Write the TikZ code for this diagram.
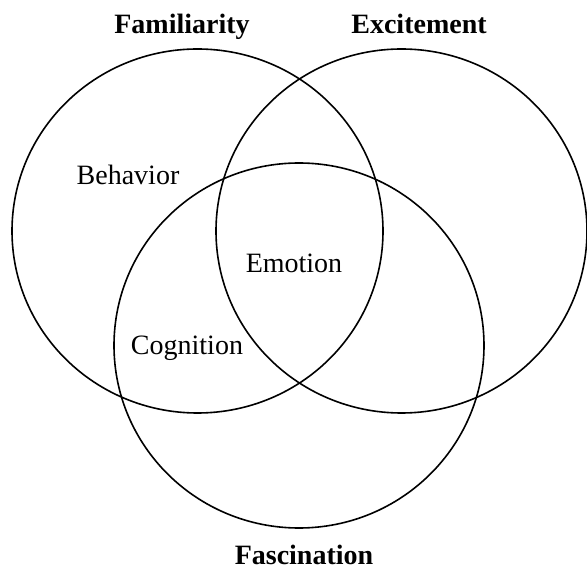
\documentclass[tikz,border=0pt]{standalone}
\usepackage{fontspec}
\setmainfont{Liberation Serif}
\usetikzlibrary{shapes.geometric}
\begin{document}
\begin{tikzpicture}[x=1pt,y=-1pt,
  setring/.style={draw=black,line width=1.6pt,ellipse,inner sep=0pt,minimum width=371pt,minimum height=364pt},
  setname/.style={font=\fontsize{28}{30}\selectfont\bfseries,anchor=base,inner sep=0pt},
  region/.style={font=\fontsize{28}{30}\selectfont,anchor=base,inner sep=0pt}]
\useasboundingbox (0,0) rectangle (587,569);
\node[setring] (fam) at (197.5,231) {};
\node[setring] (exc) at (401.5,231) {};
\node[setring,minimum width=370pt,minimum height=365pt] (fas) at (299,345.5) {};
\node[setname] (famlabel) at (182,34) {Familiarity};
\node[setname] (exclabel) at (419,34) {Excitement};
\node[setname] (faslabel) at (304,564) {Fascination};
\node[region] (beh) at (128,185) {Behavior};
\node[region] (emo) at (294,273) {Emotion};
\node[region] (cog) at (187,355) {Cognition};
\end{tikzpicture}
\end{document}
